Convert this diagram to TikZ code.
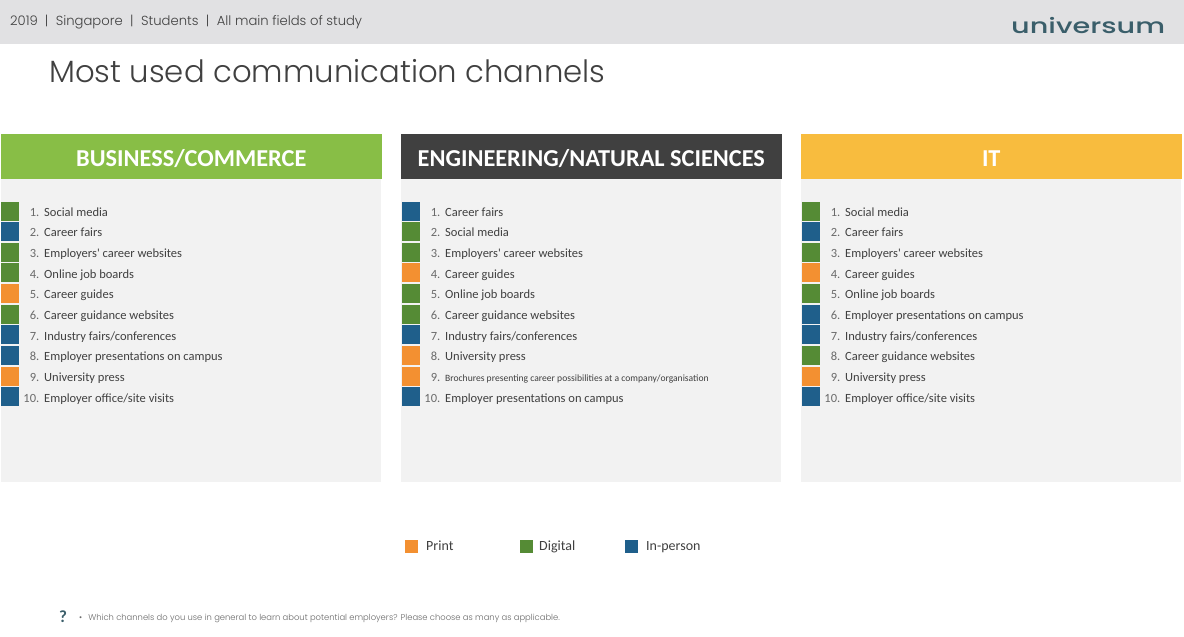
\documentclass[tikz,border=0pt]{standalone}
\usepackage{fontspec}
\setmainfont{Carlito}
\newfontfamily\geo{Poppins Medium}[Scale=0.92]
\newfontfamily\geolight{Poppins Light}[Scale=0.92]
\definecolor{topbar}{HTML}{E1E1E3}
\definecolor{panelbg}{HTML}{F2F2F2}
\definecolor{green1}{HTML}{88BE46}
\definecolor{dark1}{HTML}{404040}
\definecolor{yellow1}{HTML}{F8BC3E}
\definecolor{P}{HTML}{F39031}
\definecolor{D}{HTML}{558B35}
\definecolor{I}{HTML}{1F5F8B}
\definecolor{teal1}{HTML}{3A5E6A}
\definecolor{txt}{HTML}{404040}
\definecolor{numc}{HTML}{6A6A6A}
\tikzset{
  x=1pt,y=-1pt,
  panelbox/.style={fill=panelbg,draw=none,minimum width=380pt,minimum height=302.5pt,inner sep=0pt,outer sep=0pt,anchor=north west},
  headbox/.style={draw=none,minimum width=380.5pt,minimum height=45pt,inner sep=0pt,outer sep=0pt,anchor=north west,text=white,text height=20pt,text depth=0pt,font=\fontsize{24.3}{24}\selectfont\bfseries},
  rowsq/.style={draw=none,minimum width=18pt,minimum height=19pt,inner sep=0pt,outer sep=0pt,anchor=west},
  rownum/.style={anchor=base east,inner sep=0pt,text=numc,font=\fontsize{12.5}{13}\selectfont},
  rowtxt/.style={anchor=base west,inner sep=0pt,text=txt,font=\fontsize{12.5}{13}\selectfont},
  legsq/.style={draw=none,minimum width=13pt,minimum height=13pt,inner sep=0pt,outer sep=0pt,anchor=north west},
  legtxt/.style={anchor=base west,inner sep=0pt,text=txt,font=\fontsize{14}{14}\selectfont},
}
\newcommand{\rowdraw}[6]{% prefix, xoffset, index, colour, text, font override
  \pgfmathsetmacro{\yc}{211+(#3-1)*20.65}
  \pgfmathsetmacro{\xs}{1+#2}
  \pgfmathsetmacro{\xn}{39.5+#2}
  \pgfmathsetmacro{\xt}{44+#2}
  \node[rowsq,fill=#4] (#1sq#3) at (\xs,\yc) {};
  \node[rownum] (#1num#3) at (\xn,\yc+5.2) {#3.};
  \node[rowtxt,#6] (#1txt#3) at (\xt,\yc+5.2) {#5};
}
\begin{document}
\begin{tikzpicture}
\useasboundingbox (0,0) rectangle (1184,637);
\fill[white] (0,0) rectangle (1184,637);
\node[fill=topbar,minimum width=1184pt,minimum height=43.5pt,inner sep=0pt,outer sep=0pt,anchor=north west] (bar) at (0,0) {};
\node[anchor=base west,inner sep=0pt,text=txt,font=\geolight\fontsize{14.3}{15}\selectfont] (crumb) at (10,25) {2019\hspace{7pt}|\hspace{7.5pt}Singapore\hspace{7.5pt}|\hspace{7.5pt}Students\hspace{7.5pt}|\hspace{7.5pt}All main fields of study};
\node[anchor=base west,inner sep=0pt,text=teal1,font=\geo\fontsize{24}{24}\selectfont] (logo) at (1011,33) {\scalebox{1.30}[0.95]{universum}};
\node[anchor=base west,inner sep=0pt,text=txt,font=\geolight\fontsize{33.4}{34}\selectfont] (title) at (49,82) {Most used communication channels};

\node[panelbox] (p1) at (1,179) {};
\node[panelbox] (p2) at (401,179) {};
\node[panelbox] (p3) at (801,179) {};
\node[headbox,fill=green1] (h1) at (1,134) {BUSINESS/COMMERCE};
\node[headbox,fill=dark1] (h2) at (401,134) {ENGINEERING/NATURAL SCIENCES};
\node[headbox,fill=yellow1] (h3) at (801,134) {IT};

\rowdraw{a}{0}{1}{D}{Social media}{}
\rowdraw{a}{0}{2}{I}{Career fairs}{}
\rowdraw{a}{0}{3}{D}{Employers\textquotesingle{} career websites}{}
\rowdraw{a}{0}{4}{D}{Online job boards}{}
\rowdraw{a}{0}{5}{P}{Career guides}{}
\rowdraw{a}{0}{6}{D}{Career guidance websites}{}
\rowdraw{a}{0}{7}{I}{Industry fairs/conferences}{}
\rowdraw{a}{0}{8}{I}{Employer presentations on campus}{}
\rowdraw{a}{0}{9}{P}{University press}{}
\rowdraw{a}{0}{10}{I}{Employer office/site visits}{}

\rowdraw{b}{401}{1}{I}{Career fairs}{}
\rowdraw{b}{401}{2}{D}{Social media}{}
\rowdraw{b}{401}{3}{D}{Employers\textquotesingle{} career websites}{}
\rowdraw{b}{401}{4}{P}{Career guides}{}
\rowdraw{b}{401}{5}{D}{Online job boards}{}
\rowdraw{b}{401}{6}{D}{Career guidance websites}{}
\rowdraw{b}{401}{7}{I}{Industry fairs/conferences}{}
\rowdraw{b}{401}{8}{P}{University press}{}
\rowdraw{b}{401}{9}{P}{Brochures presenting career possibilities at a company/organisation}{font=\fontsize{9.6}{10}\selectfont}
\rowdraw{b}{401}{10}{I}{Employer presentations on campus}{}

\rowdraw{c}{801}{1}{D}{Social media}{}
\rowdraw{c}{801}{2}{I}{Career fairs}{}
\rowdraw{c}{801}{3}{D}{Employers\textquotesingle{} career websites}{}
\rowdraw{c}{801}{4}{P}{Career guides}{}
\rowdraw{c}{801}{5}{D}{Online job boards}{}
\rowdraw{c}{801}{6}{I}{Employer presentations on campus}{}
\rowdraw{c}{801}{7}{I}{Industry fairs/conferences}{}
\rowdraw{c}{801}{8}{D}{Career guidance websites}{}
\rowdraw{c}{801}{9}{P}{University press}{}
\rowdraw{c}{801}{10}{I}{Employer office/site visits}{}

\node[legsq,fill=P] (l1) at (405,540) {};
\node[legsq,fill=D] (l2) at (520,540) {};
\node[legsq,fill=I] (l3) at (625,540) {};
\node[legtxt] (t1) at (426,550) {Print};
\node[legtxt] (t2) at (539,550) {Digital};
\node[legtxt] (t3) at (646,550) {In-person};

\node[anchor=base west,inner sep=0pt,text=teal1,font=\fontsize{17}{17}\selectfont\bfseries] (q) at (59,622) {?};
\node[anchor=base west,inner sep=0pt,text=numc,font=\geolight\fontsize{9.12}{10}\selectfont] (note) at (79,620) {•\hspace{6pt}Which channels do you use in general to learn about potential employers? Please choose as many as applicable.};
\end{tikzpicture}
\end{document}
